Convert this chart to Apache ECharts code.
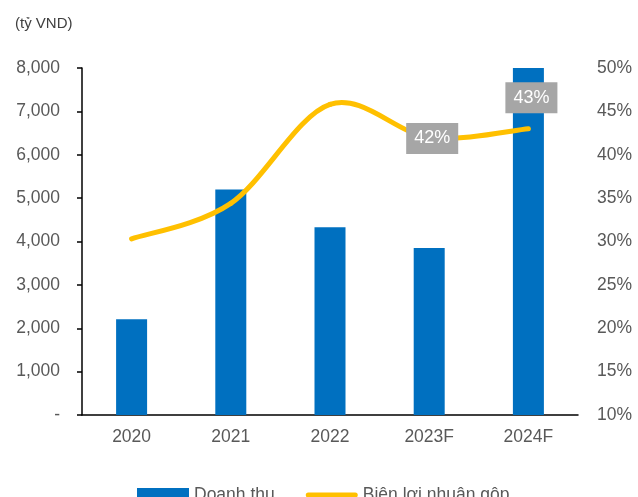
<!DOCTYPE html>
<html>
<head>
<meta charset="utf-8">
<script src="https://cdn.jsdelivr.net/npm/echarts@6/dist/echarts.min.js"></script>
<style>
  html, body { margin: 0; padding: 0; background: #fff; }
  #chart { width: 638px; height: 497px; }
</style>
</head>
<body>
<div id="chart"></div>
<script>
// Revenue (billion VND) and gross margin (%) by year
const years = ['2020', '2021', '2022', '2023F', '2024F'];
const revenue = [2210, 5200, 4330, 3850, 8000];
const grossMargin = [30.3, 34.4, 45.8, 42, 43];
const labelledYears = ['2023F', '2024F'];
const labelOffsets = { '2023F': [3, 1], '2024F': [3, -31] };

const textColor = '#595959';
const lineColor = '#FFC000';
const font = 'Liberation Sans, Arial, sans-serif';
const fs = 17.5;

// Smooth margin curve: cubic Bézier segments with Catmull-Rom style tangents,
// every point projected through the chart's own axes.
function renderMargin(params, api) {
  const i = params.dataIndex;
  const n = grossMargin.length;
  const pt = k => api.coord([Math.max(0, Math.min(n - 1, k)), grossMargin[Math.max(0, Math.min(n - 1, k))]]);
  const children = [];
  if (i < n - 1) {
    const p0 = pt(i - 1), p1 = pt(i), p2 = pt(i + 1), p3 = pt(i + 2);
    const t = 1 / 6;
    children.push({
      type: 'bezierCurve',
      shape: {
        x1: p1[0], y1: p1[1],
        cpx1: p1[0] + (p2[0] - p0[0]) * t, cpy1: p1[1] + (p2[1] - p0[1]) * t,
        cpx2: p2[0] - (p3[0] - p1[0]) * t, cpy2: p2[1] - (p3[1] - p1[1]) * t,
        x2: p2[0], y2: p2[1]
      },
      style: { stroke: lineColor, lineWidth: 5, fill: null, lineCap: 'round' }
    });
  }
  if (labelledYears.includes(years[i])) {
    const p = pt(i);
    const off = labelOffsets[years[i]];
    children.push({
      type: 'text',
      z2: 10,
      x: p[0] + off[0],
      y: p[1] + off[1],
      style: {
        text: Math.round(grossMargin[i]) + '%',
        fill: '#fff',
        font: '18px ' + font,
        align: 'center',
        verticalAlign: 'middle',
        backgroundColor: '#A6A6A6',
        padding: [7, 8, 6, 8]
      }
    });
  }
  return { type: 'group', children };
}

const chart = echarts.init(document.getElementById('chart'));
chart.setOption({
  animation: false,
  textStyle: { fontFamily: font },
  title: {
    text: '(tỷ VND)',
    left: 10,
    top: 11,
    textStyle: { fontSize: 15, fontWeight: 'normal', color: '#404040', fontFamily: font }
  },
  grid: { left: 82, right: 60, top: 68, bottom: 82 },
  legend: {
    left: 137,
    top: 486,
    padding: 0,
    itemWidth: 52,
    itemHeight: 14,
    itemGap: 31,
    textStyle: { fontSize: fs, color: textColor, fontFamily: font },
    data: [
      { name: 'Doanh thu', icon: 'rect' },
      { name: 'Biên lợi nhuận gộp', icon: 'path://M2.5,0 H49.5 A2.5,2.5 0 0 1 49.5,5 H2.5 A2.5,2.5 0 0 1 2.5,0 Z' }
    ]
  },
  xAxis: {
    type: 'category',
    data: years,
    axisLine: { lineStyle: { color: '#000', width: 1.5 } },
    axisTick: { show: false },
    axisLabel: { color: textColor, fontSize: fs, margin: 13, fontFamily: font }
  },
  yAxis: [
    {
      type: 'value',
      min: 0,
      max: 8000,
      interval: 1000,
      axisLine: { show: true, lineStyle: { color: '#000', width: 1.5 } },
      axisTick: { show: true, length: 5, lineStyle: { color: '#000', width: 1.5 } },
      splitLine: { show: false },
      axisLabel: {
        color: textColor,
        fontSize: fs,
        margin: 22,
        fontFamily: font,
        formatter: v => v === 0 ? '-' : v.toLocaleString('en-US')
      }
    },
    {
      type: 'value',
      min: 10,
      max: 50,
      interval: 5,
      position: 'right',
      axisLine: { show: false },
      axisTick: { show: false },
      splitLine: { show: false },
      axisLabel: {
        color: textColor,
        fontSize: fs,
        margin: 19,
        fontFamily: font,
        formatter: v => v + '%'
      }
    }
  ],
  series: [
    {
      name: 'Doanh thu',
      type: 'bar',
      data: revenue,
      barWidth: 31,
      itemStyle: { color: '#0070C0' }
    },
    {
      name: 'Biên lợi nhuận gộp',
      type: 'custom',
      yAxisIndex: 1,
      data: grossMargin.map((v, i) => [i, v]),
      encode: { x: 0, y: 1 },
      renderItem: renderMargin,
      itemStyle: { color: lineColor },
      clip: false,
      z: 3
    }
  ]
});
</script>
</body>
</html>
